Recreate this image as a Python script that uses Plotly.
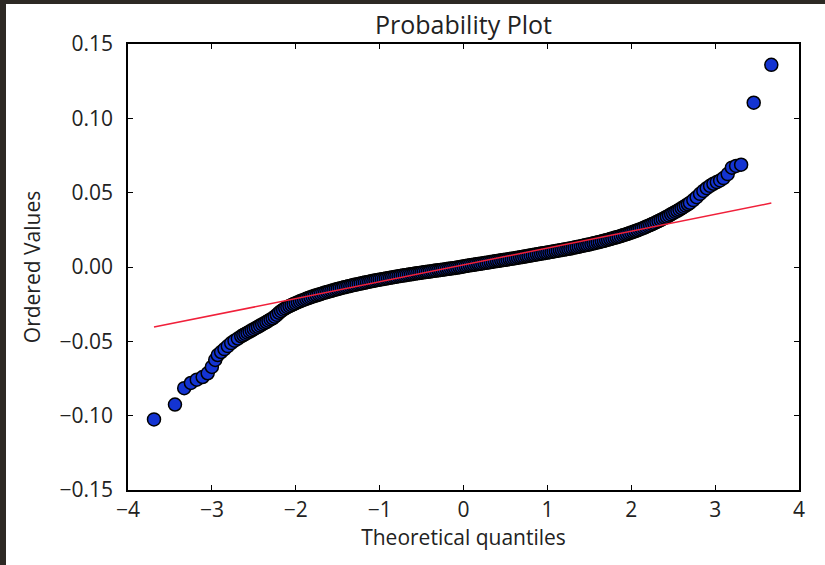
import plotly.graph_objects as go

# Theoretical normal quantiles (x) and the ordered sample values (y)
osm = [
    -3.69, -3.44, -3.33, -3.25, -3.18, -3.11, -3.05, -3.00, -2.96, -2.93,
    -2.89, -2.85, -2.81, -2.77, -2.73, -2.69, -2.65, -2.625, -2.600, -2.575,
    -2.550, -2.525, -2.500, -2.475, -2.450, -2.425, -2.400, -2.375, -2.350, -2.325,
    -2.300, -2.275, -2.250, -2.225, -2.200, -2.175, -2.150, -2.125, -2.100, -2.075,
    -2.050, -2.025, -2.000, -1.975, -1.950, -1.925, -1.900, -1.875, -1.850, -1.825,
    -1.800, -1.775, -1.750, -1.725, -1.700, -1.675, -1.650, -1.625, -1.600, -1.575,
    -1.550, -1.525, -1.500, -1.475, -1.450, -1.425, -1.400, -1.375, -1.350, -1.325,
    -1.300, -1.275, -1.250, -1.225, -1.200, -1.175, -1.150, -1.125, -1.100, -1.075,
    -1.050, -1.025, -1.000, -0.975, -0.950, -0.925, -0.900, -0.875, -0.850, -0.825,
    -0.800, -0.775, -0.750, -0.725, -0.700, -0.675, -0.650, -0.625, -0.600, -0.575,
    -0.550, -0.525, -0.500, -0.475, -0.450, -0.425, -0.400, -0.375, -0.350, -0.325,
    -0.300, -0.275, -0.250, -0.225, -0.200, -0.175, -0.150, -0.125, -0.100, -0.075,
    -0.050, -0.025, 0.000, 0.025, 0.050, 0.075, 0.100, 0.125, 0.150, 0.175,
    0.200, 0.225, 0.250, 0.275, 0.300, 0.325, 0.350, 0.375, 0.400, 0.425,
    0.450, 0.475, 0.500, 0.525, 0.550, 0.575, 0.600, 0.625, 0.650, 0.675,
    0.700, 0.725, 0.750, 0.775, 0.800, 0.825, 0.850, 0.875, 0.900, 0.925,
    0.950, 0.975, 1.000, 1.025, 1.050, 1.075, 1.100, 1.125, 1.150, 1.175,
    1.200, 1.225, 1.250, 1.275, 1.300, 1.325, 1.350, 1.375, 1.400, 1.425,
    1.450, 1.475, 1.500, 1.525, 1.550, 1.575, 1.600, 1.625, 1.650, 1.675,
    1.700, 1.725, 1.750, 1.775, 1.800, 1.825, 1.850, 1.875, 1.900, 1.925,
    1.950, 1.975, 2.000, 2.025, 2.050, 2.075, 2.100, 2.125, 2.150, 2.175,
    2.200, 2.225, 2.250, 2.275, 2.300, 2.325, 2.350, 2.375, 2.400, 2.425,
    2.450, 2.475, 2.500, 2.525, 2.550, 2.575, 2.600, 2.625, 2.650, 2.675,
    2.700, 2.74, 2.78, 2.82, 2.86, 2.90, 2.94, 2.98, 3.02, 3.06,
    3.10, 3.15, 3.20, 3.25, 3.31, 3.46, 3.67,
]
osr = [
    -0.1025, -0.0925, -0.0815, -0.0780, -0.0758, -0.0740, -0.0715, -0.0672, -0.0625, -0.0592,
    -0.0572, -0.0552, -0.0532, -0.0512, -0.0496, -0.0481, -0.0466, -0.0458, -0.0450, -0.0442,
    -0.0434, -0.0426, -0.0418, -0.0410, -0.0402, -0.0394, -0.0386, -0.0378, -0.0370, -0.0361,
    -0.0353, -0.0345, -0.0334, -0.0322, -0.0308, -0.0297, -0.0287, -0.0278, -0.0270, -0.0263,
    -0.0256, -0.0249, -0.0243, -0.0237, -0.0231, -0.0225, -0.0220, -0.0214, -0.0209, -0.0204,
    -0.0199, -0.0194, -0.0190, -0.0185, -0.0181, -0.0176, -0.0172, -0.0168, -0.0164, -0.0160,
    -0.0156, -0.0152, -0.0148, -0.0144, -0.0141, -0.0137, -0.0134, -0.0130, -0.0127, -0.0123,
    -0.0120, -0.0117, -0.0114, -0.0111, -0.0108, -0.0105, -0.0102, -0.0099, -0.0096, -0.0093,
    -0.0090, -0.0087, -0.0085, -0.0082, -0.0080, -0.0077, -0.0075, -0.0072, -0.0070, -0.0067,
    -0.0065, -0.0062, -0.0060, -0.0058, -0.0056, -0.0053, -0.0051, -0.0049, -0.0047, -0.0044,
    -0.0042, -0.0040, -0.0038, -0.0036, -0.0034, -0.0032, -0.0030, -0.0028, -0.0026, -0.0024,
    -0.0022, -0.0020, -0.0018, -0.0016, -0.0014, -0.0012, -0.0010, -0.0008, -0.0006, -0.0004,
    -0.0002, 0.0001, 0.0004, 0.0006, 0.0009, 0.0011, 0.0013, 0.0015, 0.0018, 0.0020,
    0.0022, 0.0024, 0.0027, 0.0029, 0.0031, 0.0033, 0.0036, 0.0038, 0.0040, 0.0042,
    0.0045, 0.0047, 0.0049, 0.0051, 0.0054, 0.0056, 0.0058, 0.0060, 0.0063, 0.0065,
    0.0067, 0.0070, 0.0072, 0.0075, 0.0077, 0.0080, 0.0082, 0.0085, 0.0087, 0.0090,
    0.0092, 0.0095, 0.0097, 0.0100, 0.0102, 0.0105, 0.0107, 0.0110, 0.0112, 0.0115,
    0.0117, 0.0120, 0.0123, 0.0125, 0.0128, 0.0131, 0.0134, 0.0137, 0.0140, 0.0143,
    0.0146, 0.0149, 0.0152, 0.0155, 0.0159, 0.0162, 0.0166, 0.0169, 0.0173, 0.0176,
    0.0180, 0.0184, 0.0188, 0.0192, 0.0196, 0.0200, 0.0204, 0.0208, 0.0213, 0.0217,
    0.0222, 0.0227, 0.0232, 0.0237, 0.0242, 0.0247, 0.0253, 0.0258, 0.0264, 0.0270,
    0.0276, 0.0282, 0.0289, 0.0295, 0.0302, 0.0309, 0.0316, 0.0323, 0.0331, 0.0338,
    0.0346, 0.0354, 0.0362, 0.0370, 0.0378, 0.0386, 0.0395, 0.0404, 0.0413, 0.0422,
    0.0432, 0.0450, 0.0470, 0.0492, 0.0512, 0.0530, 0.0546, 0.0560, 0.0571, 0.0582,
    0.0598, 0.0625, 0.0668, 0.0680, 0.0688, 0.1105, 0.1360,
]

# Least-squares reference line, spanning the range of theoretical quantiles
fit_x = [-3.69, 3.67]
fit_y = [-0.0404, 0.0430]

x_ticks = [-4, -3, -2, -1, 0, 1, 2, 3, 4]
y_ticks = [-0.15, -0.10, -0.05, 0.00, 0.05, 0.10, 0.15]

FONT = "Open Sans"
TXT = "#222222"

fig = go.Figure()
fig.add_trace(go.Scatter(
    x=osm, y=osr, mode="markers",
    marker=dict(size=13, color="#1434d2", line=dict(color="black", width=1.5)),
    showlegend=False,
))
fig.add_trace(go.Scatter(
    x=fit_x, y=fit_y, mode="lines",
    line=dict(color="#f0203a", width=1.6),
    showlegend=False,
))

axis_common = dict(
    showline=True, linecolor="black", linewidth=1.5, mirror="ticks",
    ticks="inside", ticklen=5, tickwidth=1, tickcolor="black",
    showgrid=False, zeroline=False,
    tickfont=dict(family=FONT, size=21, color=TXT),
)

fig.update_layout(
    width=825, height=565,
    margin=dict(l=128, r=26, t=44, b=75),
    paper_bgcolor="white", plot_bgcolor="white",
    font=dict(family=FONT, color=TXT),
    title=dict(text="Probability Plot", x=0.5, xref="paper", xanchor="center",
               y=1 - 25 / 565, yref="container", yanchor="middle",
               font=dict(family=FONT, size=25, color=TXT)),
    xaxis=dict(range=[-4, 4], tickvals=x_ticks,
               title=dict(text="Theoretical quantiles", standoff=0,
                          font=dict(family=FONT, size=21, color=TXT)),
               ticklabelstandoff=0, **axis_common),
    yaxis=dict(range=[-0.15, 0.15], tickvals=y_ticks, tickformat=".2f",
               title=dict(text="Ordered Values", standoff=13,
                          font=dict(family=FONT, size=21, color=TXT)),
               ticklabelstandoff=9, **axis_common),
)

# Dark window frame along the top and left edges of the canvas
PW, PH = 671, 446
frame = "#2d2924"
fig.add_shape(type="rect", xref="paper", yref="paper", line_width=0, fillcolor=frame,
              x0=(0 - 128) / PW, x1=(6 - 128) / PW, y0=(490 - 565) / PH, y1=(490 - 0) / PH)
fig.add_shape(type="rect", xref="paper", yref="paper", line_width=0, fillcolor=frame,
              x0=(0 - 128) / PW, x1=(825 - 128) / PW, y0=(490 - 4) / PH, y1=(490 - 0) / PH)

fig.write_html("out.html")
